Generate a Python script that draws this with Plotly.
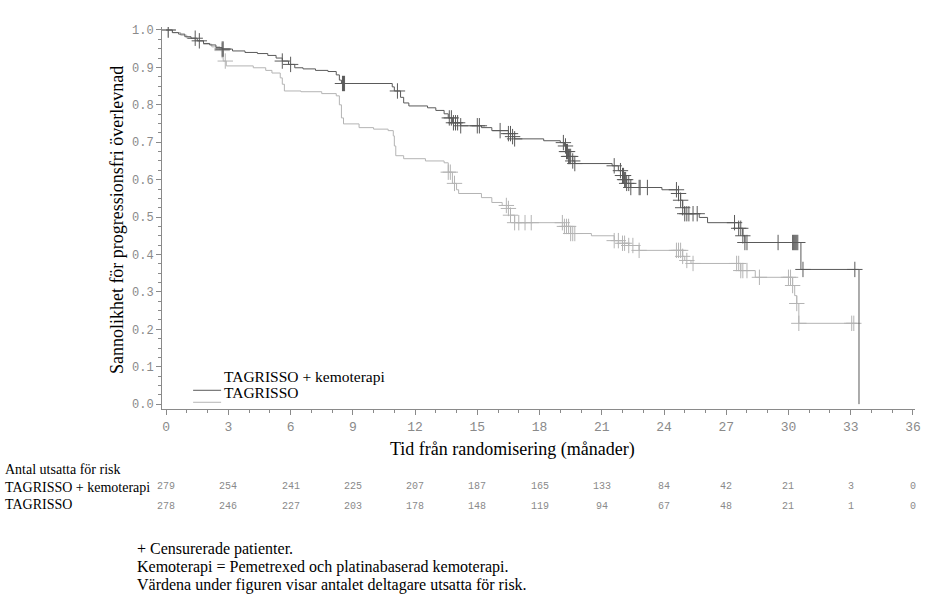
import numpy as np
import plotly.graph_objects as go

# ---------------- data ----------------
# TAGRISSO + kemoterapi : step curve (time in months, survival probability)
combo_t = [0, 0.3, 0.6, 0.9, 1.2, 1.5, 1.8, 2.1, 2.4, 2.7, 3.2, 3.8, 4.4, 4.9, 5.3, 5.6, 5.9, 6.2,
           6.6, 7.2, 7.8, 8.2, 8.35, 8.45, 10.9, 11.0, 11.3, 11.45, 11.7, 12.6, 13.0, 13.4, 13.6,
           13.8, 14.2, 15.2, 15.7, 16.5, 16.7, 16.8, 18.2, 19.0, 19.2, 19.3, 19.4, 19.6, 19.7,
           21.5, 21.8, 22.0, 22.1, 22.2, 22.4, 23.9, 24.7, 24.8, 24.9, 25.0, 25.7, 26.1, 27.6,
           27.8, 27.9, 30.6, 33.4]
combo_s = [1.0, 0.993, 0.989, 0.982, 0.978, 0.971, 0.964, 0.960, 0.953, 0.949, 0.944, 0.940, 0.937,
           0.932, 0.925, 0.917, 0.908, 0.899, 0.896, 0.892, 0.889, 0.880, 0.866, 0.857, 0.848,
           0.837, 0.820, 0.805, 0.797, 0.792, 0.785, 0.776, 0.765, 0.752, 0.744, 0.739, 0.731,
           0.723, 0.715, 0.709, 0.704, 0.699, 0.690, 0.675, 0.662, 0.650, 0.643, 0.637, 0.624,
           0.611, 0.600, 0.590, 0.579, 0.573, 0.563, 0.545, 0.525, 0.509, 0.499, 0.485, 0.470,
           0.450, 0.432, 0.360, 0.0]
combo_cens = [0.1, 1.4, 1.6, 2.7, 2.75, 5.6, 6.0, 8.5, 8.55, 8.6, 11.15, 13.65, 13.75, 13.85, 13.95,
              14.05, 14.2, 15.0, 15.1, 16.1, 16.5, 16.6, 16.7, 16.8, 19.15, 19.25, 19.3, 19.35,
              19.4, 19.45, 19.5, 19.6, 19.7, 21.6, 21.9, 22.0, 22.05, 22.1, 22.15, 22.2, 22.3,
              22.4, 22.8, 22.85, 23.2, 24.6, 24.7, 24.8, 24.9, 25.0, 25.1, 25.2, 25.4, 25.6,
              27.4, 27.6, 27.7, 27.8, 27.9, 28.0, 29.5, 30.2, 30.25, 30.3, 30.35, 30.4, 30.45,
              30.7, 33.2]

# TAGRISSO : step curve
mono_t = [0, 0.3, 0.7, 1.0, 1.4, 1.8, 2.2, 2.6, 2.75, 2.9, 4.2, 4.8, 5.1, 5.5, 5.6, 5.7, 6.5, 7.5,
          8.2, 8.35, 8.45, 8.55, 9.3, 10.0, 10.7, 10.95, 11.0, 11.07, 11.45, 12.5, 13.4, 13.6,
          13.8, 14.0, 14.1, 15.2, 15.7, 16.2, 16.5, 16.6, 16.8, 19.2, 19.5, 20.5, 21.6, 22.0,
          22.3, 22.8, 24.9, 25.0, 25.3, 27.7, 28.4, 30.2, 30.3, 30.4, 30.5, 33.3]
mono_s = [1.0, 0.993, 0.986, 0.978, 0.971, 0.962, 0.955, 0.945, 0.917, 0.904, 0.899, 0.892, 0.885,
          0.872, 0.855, 0.837, 0.835, 0.830, 0.824, 0.800, 0.765, 0.749, 0.739, 0.735, 0.731,
          0.717, 0.690, 0.664, 0.656, 0.650, 0.645, 0.620, 0.590, 0.573, 0.563, 0.552, 0.539,
          0.531, 0.523, 0.505, 0.485, 0.475, 0.456, 0.450, 0.437, 0.430, 0.424, 0.411, 0.395,
          0.384, 0.376, 0.357, 0.339, 0.317, 0.290, 0.269, 0.216, 0.216]
mono_cens = [0.1, 2.7, 2.85, 13.6, 13.7, 13.9, 16.4, 16.5, 16.6, 16.8, 17.0, 17.3, 17.6, 19.1,
             19.2, 19.3, 19.4, 19.5, 19.6, 19.7, 21.6, 21.8, 22.0, 22.1, 22.3, 22.5, 22.8, 24.6,
             24.7, 24.8, 24.9, 25.1, 25.4, 27.5, 27.6, 27.7, 27.8, 28.0, 28.6, 30.0, 30.1, 30.2,
             30.4, 30.5, 33.05, 33.15]

# risk table
risk_times = [0, 3, 6, 9, 12, 15, 18, 21, 24, 27, 30, 33, 36]
risk_combo = [279, 254, 241, 225, 207, 187, 165, 133, 84, 42, 21, 3, 0]
risk_mono = [278, 246, 227, 203, 178, 148, 119, 94, 67, 48, 21, 1, 0]

name_combo = "TAGRISSO + kemoterapi"
name_mono = "TAGRISSO"
x_title = "Tid från randomisering (månader)"
y_title = "Sannolikhet för progressionsfri överlevnad"
risk_title = "Antal utsatta för risk"
footnotes = ["+ Censurerade patienter.",
             "Kemoterapi = Pemetrexed och platinabaserad kemoterapi.",
             "Värdena under figuren visar antalet deltagare utsatta för risk."]

# ---------------- styling ----------------
c_combo = "#5a5a5a"
c_mono = "#b4b4b4"
axis_c = "#8a8a8a"
mono_font = "Liberation Mono"
serif_font = "Liberation Serif"


def step_at(ts, ss, t):
    idx = np.searchsorted(np.array(ts), np.array(t), side="right") - 1
    return np.array(ss)[idx]


fig = go.Figure()
for ts, ss, cens, col, nm in [(mono_t, mono_s, mono_cens, c_mono, name_mono),
                              (combo_t, combo_s, combo_cens, c_combo, name_combo)]:
    fig.add_trace(go.Scatter(x=ts, y=ss, mode="lines", line=dict(color=col, width=1, shape="hv"),
                             name=nm, showlegend=False, hoverinfo="skip"))
    fig.add_trace(go.Scatter(x=cens, y=step_at(ts, ss, cens), mode="markers",
                             marker=dict(symbol="cross-thin-open", size=11, color=col,
                                         line=dict(color=col, width=1)),
                             showlegend=False, hoverinfo="skip"))

# manual legend (in data coords)
fig.add_shape(type="line", x0=1.3, x1=2.65, y0=0.037, y1=0.037, line=dict(color=c_combo, width=1))
fig.add_shape(type="line", x0=1.3, x1=2.65, y0=0.005, y1=0.005, line=dict(color=c_mono, width=1))
fig.add_annotation(x=2.7, y=0.075, text=name_combo, showarrow=False, xanchor="left",
                   yanchor="middle", font=dict(family=serif_font, size=15.5, color="black"))
fig.add_annotation(x=2.7, y=0.032, text=name_mono, showarrow=False, xanchor="left",
                   yanchor="middle", font=dict(family=serif_font, size=15.5, color="black"))

# axis titles
fig.add_annotation(xref="paper", yref="paper", x=0.466, y=-0.107, text=x_title, showarrow=False,
                   xanchor="center", yanchor="middle",
                   font=dict(family=serif_font, size=18, color="black"))
fig.add_annotation(xref="paper", yref="paper", x=-0.06, y=0.494, text=y_title, showarrow=False,
                   xanchor="center", yanchor="middle",
                   textangle=-90, font=dict(family=serif_font, size=18, color="black"))

# risk table
for txt, yy in [(risk_title, -0.158), (name_combo, -0.206), (name_mono, -0.251)]:
    fig.add_annotation(xref="paper", yref="paper", x=-0.211, y=yy, text=txt,
                       showarrow=False, xanchor="left", yanchor="middle",
                       font=dict(family=serif_font, size=14, color="black"))
for t, a, b in zip(risk_times, risk_combo, risk_mono):
    for val, yy in [(a, -0.204), (b, -0.256)]:
        fig.add_annotation(xref="x", yref="paper", x=t, y=yy,
                           text=str(val), showarrow=False, xanchor="center", yanchor="middle",
                           font=dict(family=mono_font, size=10, color="#8a8a8a"))

for i, line in enumerate(footnotes):
    fig.add_annotation(xref="paper", yref="paper", x=-0.036, y=-0.366 - 0.047 * i, text=line,
                       showarrow=False, xanchor="left", yanchor="middle",
                       font=dict(family=serif_font, size=16, color="black"))

fig.update_xaxes(range=[-0.2, 36.1], tickmode="array", tickvals=risk_times,
                 ticktext=[str(t) for t in risk_times], showgrid=False, zeroline=False,
                 showline=True, linecolor=axis_c, linewidth=1, ticks="outside", ticklen=5,
                 tickcolor=axis_c, tickfont=dict(family=mono_font, size=13, color="#8a8a8a"),
                 minor=dict(dtick=1, tick0=0, ticks="outside", ticklen=3, tickcolor=axis_c,
                            showgrid=False))
fig.update_yaxes(range=[-0.013, 1.008], tickmode="array",
                 tickvals=[round(0.1 * i, 1) for i in range(11)],
                 ticktext=["%.1f" % (0.1 * i) for i in range(11)], showgrid=False,
                 zeroline=False, showline=True, linecolor=axis_c, linewidth=1, ticks="outside",
                 ticklen=5, tickcolor=axis_c,
                 tickfont=dict(family=mono_font, size=12, color="#8a8a8a"),
                 minor=dict(dtick=0.025, tick0=0, ticks="outside", ticklen=3, tickcolor=axis_c,
                            showgrid=False))

fig.update_layout(width=934, height=603, margin=dict(l=162, r=19, t=27, b=194),
                  plot_bgcolor="white", paper_bgcolor="white", showlegend=False)

# remove the default 8px page margin so the figure sits at the window's top-left corner
fig.write_html("out.html", config={"displayModeBar": False},
               post_script="document.body.style.margin='0';")
